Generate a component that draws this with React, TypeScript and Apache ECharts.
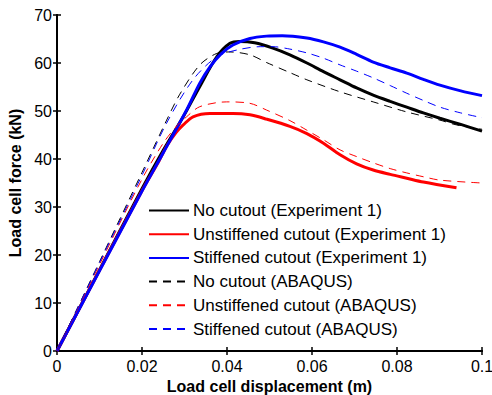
import React, { useEffect, useRef } from "react";
import * as echarts from "echarts";

const seriesNames = [
  "No cutout (Experiment 1)",
  "Unstiffened cutout (Experiment 1)",
  "Stiffened cutout (Experiment 1)",
  "No cutout (ABAQUS)",
  "Unstiffened cutout (ABAQUS)",
  "Stiffened cutout (ABAQUS)",
];

const noCutoutExp: [number, number][] = [
  [0, 0], [0.01, 16.9], [0.02, 33.8], [0.025, 41.8], [0.0297, 48.8], [0.0336, 55.1],
  [0.0376, 61.3], [0.0407, 64.1], [0.043, 64.5], [0.0465, 64.2], [0.0508, 63.1],
  [0.0548, 61.7], [0.0588, 60.0], [0.0627, 58.2], [0.0666, 56.5], [0.0705, 54.8],
  [0.0744, 53.3], [0.0784, 52.0], [0.0823, 50.8], [0.0862, 49.6], [0.0901, 48.5],
  [0.095, 47.2], [0.1, 45.8],
];

const unstiffenedExp: [number, number][] = [
  [0, 0], [0.01, 16.8], [0.02, 33.4], [0.024, 39.6], [0.0259, 42.8], [0.028, 45.5],
  [0.0297, 47.1], [0.032, 48.8], [0.036, 49.5], [0.0414, 49.5], [0.0454, 49.2],
  [0.0493, 48.3], [0.0548, 46.8], [0.0588, 45.3], [0.0627, 43.3], [0.0666, 40.9],
  [0.0705, 39.0], [0.0744, 37.7], [0.0784, 36.8], [0.0823, 36.0], [0.0862, 35.2],
  [0.094, 34.0],
];

const stiffenedExp: [number, number][] = [
  [0, 0], [0.01, 16.7], [0.02, 33.3], [0.025, 41.3], [0.0305, 50.2], [0.0336, 55.8],
  [0.036, 59.2], [0.0385, 61.8], [0.0414, 63.75], [0.0454, 65.1], [0.0493, 65.6],
  [0.053, 65.7], [0.0588, 65.2], [0.0627, 64.4], [0.0666, 63.3], [0.0705, 61.8],
  [0.0744, 60.2], [0.0784, 59.0], [0.0823, 57.9], [0.0862, 56.6], [0.0901, 55.4],
  [0.095, 54.2], [0.1, 53.2],
];

const noCutoutAbaqus: [number, number][] = [
  [0, 0], [0.01, 18.6], [0.02, 37.2], [0.0258, 48.1], [0.0289, 53.5], [0.0336, 59.6],
  [0.0376, 62.0], [0.0407, 62.3], [0.0454, 61.7], [0.0493, 60.1], [0.0548, 58.0],
  [0.0588, 56.5], [0.0666, 54.0], [0.0744, 51.9], [0.0823, 49.8], [0.0901, 48.1],
  [0.094, 47.1], [0.1, 46.2],
];

const unstiffenedAbaqus: [number, number][] = [
  [0, 0], [0.01, 18.0], [0.02, 35.8], [0.025, 43.3], [0.0282, 46.9], [0.0305, 48.8],
  [0.0336, 50.9], [0.0399, 51.9], [0.0454, 51.6], [0.0493, 50.2], [0.0548, 48.0],
  [0.0588, 46.0], [0.0627, 44.0], [0.0666, 41.9], [0.0705, 40.5], [0.0744, 39.2],
  [0.0784, 38.0], [0.0823, 37.1], [0.0862, 36.3], [0.0901, 35.6], [0.1, 35.0],
];

const stiffenedAbaqus: [number, number][] = [
  [0, 0], [0.01, 18.4], [0.02, 36.6], [0.0258, 47.5], [0.032, 56.5], [0.0376, 61.3],
  [0.0423, 62.7], [0.0478, 63.4], [0.0508, 63.4], [0.0548, 62.9], [0.0588, 62.1],
  [0.0627, 61.0], [0.0666, 59.6], [0.0705, 58.3], [0.0744, 56.9], [0.0784, 55.3],
  [0.0823, 53.7], [0.0862, 52.2], [0.0901, 50.8], [0.095, 49.6], [0.1, 48.6],
];

const seriesData = [
  noCutoutExp,
  unstiffenedExp,
  stiffenedExp,
  noCutoutAbaqus,
  unstiffenedAbaqus,
  stiffenedAbaqus,
];
const seriesColors = ["#000000", "#ff0000", "#0000ff", "#000000", "#ff0000", "#0000ff"];
const seriesDashed = [false, false, false, true, true, true];

const FONT = "'Liberation Sans', Arial, sans-serif";

export default function App() {
  const ref = useRef<HTMLDivElement>(null);
  useEffect(() => {
    document.body.style.margin = "0";
    if (!ref.current) return;
    const chart = echarts.init(ref.current, undefined, { renderer: "svg" });
    const axisLine = { show: true, lineStyle: { color: "#000", width: 2 } };
    const tick = { show: true, inside: true, length: 4, lineStyle: { color: "#000", width: 1.5 } };
    const fmt = (v: number) => String(parseFloat(v.toFixed(3)));
    chart.setOption({
      animation: false,
      backgroundColor: "#fff",
      textStyle: { fontFamily: FONT },
      grid: { left: 57, top: 15, right: 10, bottom: 44, containLabel: false, outerBoundsMode: "none" },
      legend: {
        orient: "vertical",
        left: 143,
        top: 197,
        itemWidth: 40,
        itemHeight: 14,
        itemGap: 6.7,
        itemStyle: { opacity: 0 },
        textStyle: { fontFamily: FONT, fontSize: 17, lineHeight: 17, color: "#000", padding: [0, 0, 0, -1] },
        data: seriesNames.map((n) => ({ name: n })),
      },
      xAxis: [
        {
          type: "value",
          min: 0,
          max: 0.1,
          interval: 0.02,
          name: "Load cell displacement (m)",
          nameLocation: "middle",
          nameGap: 26,
          nameTextStyle: { fontFamily: FONT, fontSize: 16, fontWeight: "bold", color: "#000" },
          axisLine,
          axisTick: tick,
          axisLabel: { fontFamily: FONT, fontSize: 16, color: "#000", margin: 7, formatter: fmt },
          splitLine: { show: false },
        },
        {
          type: "value",
          position: "top",
          min: 0,
          max: 0.1,
          interval: 0.02,
          axisLine,
          axisTick: tick,
          axisLabel: { show: false },
          splitLine: { show: false },
        },
      ],
      yAxis: [
        {
          type: "value",
          min: 0,
          max: 70,
          interval: 10,
          name: "Load cell force (kN)",
          nameLocation: "middle",
          nameGap: 34,
          nameTextStyle: { fontFamily: FONT, fontSize: 16, fontWeight: "bold", color: "#000" },
          axisLine,
          axisTick: tick,
          axisLabel: { fontFamily: FONT, fontSize: 16, color: "#000", margin: 5 },
          splitLine: { show: false },
        },
        {
          type: "value",
          position: "right",
          min: 0,
          max: 70,
          interval: 10,
          axisLine,
          axisTick: tick,
          axisLabel: { show: false },
          splitLine: { show: false },
        },
      ],
      series: seriesNames.map((name, i) => ({
        name,
        type: "line",
        xAxisIndex: 0,
        yAxisIndex: 0,
        data: seriesData[i],
        smooth: 0.3,
        showSymbol: false,
        symbol: "none",
        clip: true,
        color: seriesColors[i],
        lineStyle: {
          color: seriesColors[i],
          width: seriesDashed[i] ? 1 : 3,
          type: seriesDashed[i] ? [8, 6] : "solid",
        },
        z: seriesDashed[i] ? 3 : 2,
      })),
    });
    return () => chart.dispose();
  }, []);
  return <div ref={ref} style={{ width: 492, height: 395 }} />;
}
